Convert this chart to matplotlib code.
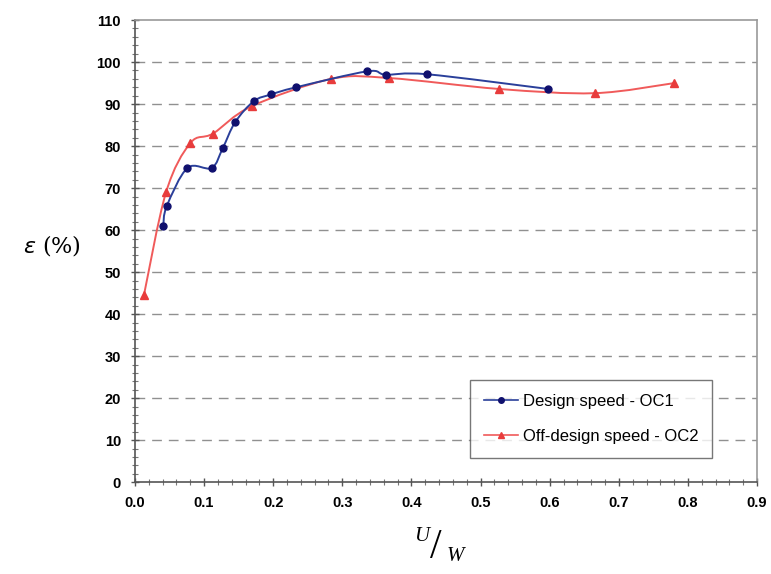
import numpy as np
import matplotlib
matplotlib.use("Agg")
import matplotlib.pyplot as plt
from matplotlib.path import Path
from matplotlib.patches import PathPatch
from matplotlib.lines import Line2D
from matplotlib.ticker import MultipleLocator

# Data
oc1_x = [0.041, 0.046, 0.076, 0.111, 0.127, 0.145, 0.172, 0.197, 0.233, 0.336, 0.363, 0.423, 0.598]
oc1_y = [61.0, 65.7, 74.8, 74.8, 79.5, 85.7, 90.7, 92.3, 94.0, 97.8, 97.0, 97.1, 93.6]
oc2_x = [0.013, 0.045, 0.080, 0.113, 0.169, 0.284, 0.368, 0.527, 0.665, 0.780]
oc2_y = [44.5, 69.0, 80.7, 83.0, 89.5, 96.0, 96.2, 93.6, 92.6, 95.0]
labels = ["Design speed - OC1", "Off-design speed - OC2"]
xticks = [0.0, 0.1, 0.2, 0.3, 0.4, 0.5, 0.6, 0.7, 0.8, 0.9]
yticks = list(range(0, 111, 10))

plt.rcParams['font.family'] = ['Liberation Sans', 'DejaVu Sans']

fig = plt.figure(figsize=(7.71, 5.74), dpi=100)
ax = fig.add_axes([0.175, 0.160, 0.807, 0.805])


def smooth_path(xs, ys, t=1/6):
    # Catmull-Rom style Bezier smoothing (like spreadsheet "smoothed line")
    xs = np.asarray(xs); ys = np.asarray(ys)
    verts = [(xs[0], ys[0])]
    codes = [Path.MOVETO]
    n = len(xs)
    for i in range(n - 1):
        p0 = (xs[i-1], ys[i-1]) if i > 0 else (xs[i], ys[i])
        p1 = (xs[i], ys[i]); p2 = (xs[i+1], ys[i+1])
        p3 = (xs[i+2], ys[i+2]) if i + 2 < n else p2
        c1 = (p1[0] + (p2[0]-p0[0])*t, p1[1] + (p2[1]-p0[1])*t)
        c2 = (p2[0] - (p3[0]-p1[0])*t, p2[1] - (p3[1]-p1[1])*t)
        verts += [c1, c2, p2]
        codes += [Path.CURVE4]*3
    return Path(verts, codes)

c_blue_line = '#2a3f9a'
c_blue_mk = '#10106e'
c_red_line = '#f05a5a'
c_red_mk = '#e83c3c'

ax.add_patch(PathPatch(smooth_path(oc2_x, oc2_y), fill=False, edgecolor=c_red_line, lw=1.4, zorder=3))
ax.plot(oc2_x, oc2_y, ls='none', marker='^', ms=6, color=c_red_mk, mec=c_red_mk, zorder=4)
ax.add_patch(PathPatch(smooth_path(oc1_x, oc1_y), fill=False, edgecolor=c_blue_line, lw=1.4, zorder=5))
ax.plot(oc1_x, oc1_y, ls='none', marker='o', ms=5, color=c_blue_mk, mec=c_blue_mk, zorder=6)

ax.set_xlim(0, 0.9)
ax.set_ylim(0, 110)
ax.set_xticks(xticks)
ax.set_yticks(yticks)
ax.set_xticklabels([f"{v:.1f}" for v in xticks], fontweight='bold', fontsize=10.5)
ax.set_yticklabels([str(v) for v in yticks], fontweight='bold', fontsize=10.5)
ax.xaxis.set_minor_locator(MultipleLocator(0.02))
ax.yaxis.set_minor_locator(MultipleLocator(2))
ax.tick_params(which='major', direction='inout', length=6, width=1, color='#555555', pad=7)
ax.tick_params(which='minor', direction='inout', length=4, width=0.8, color='#777777')

for y in yticks[1:-1]:
    ax.axhline(y, color='#909090', lw=1.0, ls=(0, (7, 5)), zorder=1)

for s in ['left', 'bottom']:
    ax.spines[s].set_color('#555555'); ax.spines[s].set_linewidth(1.2)
for s in ['top', 'right']:
    ax.spines[s].set_color('#999999'); ax.spines[s].set_linewidth(1.2)

handles = [Line2D([], [], color=c_blue_line, marker='o', ms=4, mfc=c_blue_mk, mec=c_blue_mk, lw=1.2),
           Line2D([], [], color=c_red_line, marker='^', ms=5, mfc=c_red_mk, mec=c_red_mk, lw=1.2)]
leg = ax.legend(handles, labels, loc='lower right', bbox_to_anchor=(0.928, 0.052),
                borderaxespad=0, fontsize=12, frameon=True, fancybox=False, edgecolor='#555555',
                handlelength=2.0, labelspacing=1.2, borderpad=0.85, handletextpad=0.3)
leg.get_frame().set_linewidth(1.0)

fig.text(0.030, 0.573, r"$\varepsilon$ (%)", fontsize=16, family=['DejaVu Serif'], va='center')

fig.text(0.547, 0.065, "U", fontsize=15, style='italic', family=['Liberation Serif'], ha='center', va='center')
fig.text(0.565, 0.045, "/", fontsize=30, family=['Liberation Serif'], ha='center', va='center')
fig.text(0.590, 0.030, "W", fontsize=15, style='italic', family=['Liberation Serif'], ha='center', va='center')

fig.savefig("out.png", dpi=100)
